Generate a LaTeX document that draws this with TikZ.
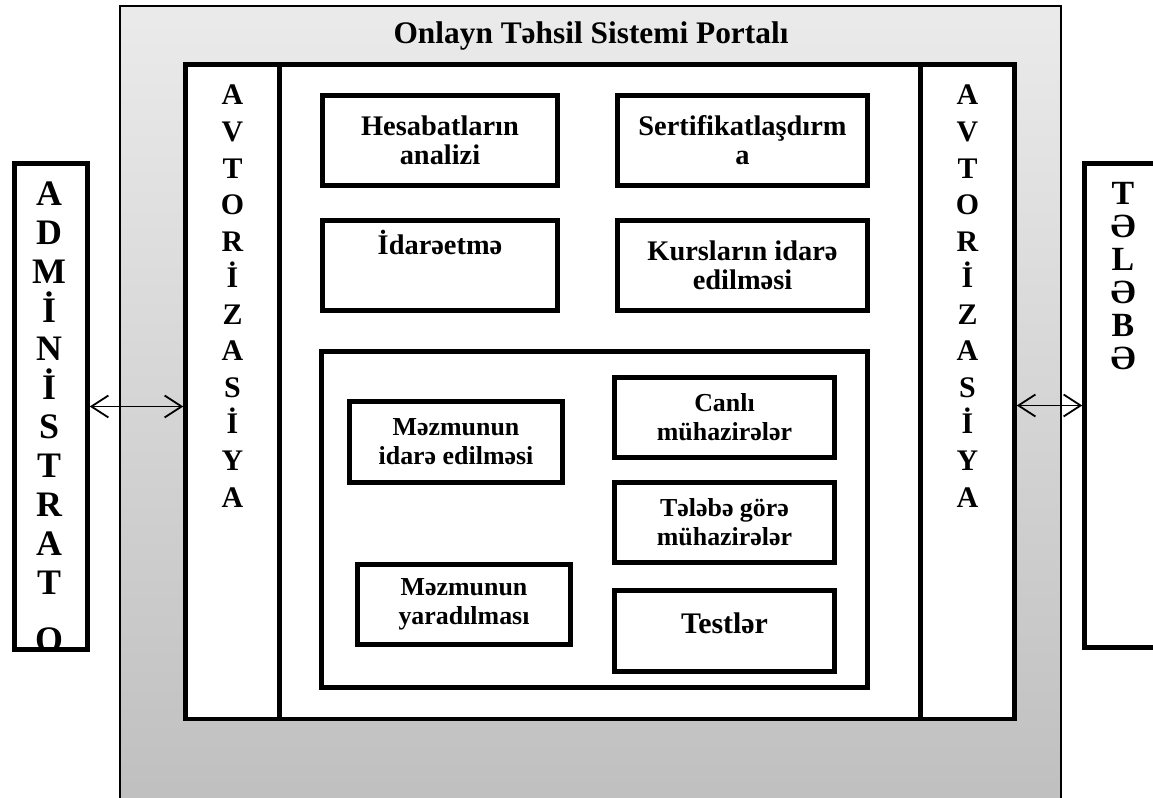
\documentclass[tikz,border=0pt]{standalone}
\usepackage{fontspec}
\setmainfont{Liberation Serif}
\usepackage{tikz}
\usetikzlibrary{positioning,arrows.meta}

\begin{document}
\begin{tikzpicture}[>={Straight Barb[length=17bp,width=22bp]},line join=miter,
  thickbox/.style={draw,line width=4.5bp,fill=white,inner sep=0pt,align=center},
  letters/.style={inner sep=0pt,anchor=north,align=center},
  topfont/.style={font=\fontsize{28.5}{29}\selectfont\bfseries},
  subfont/.style={font=\fontsize{26}{29}\selectfont\bfseries},]
\useasboundingbox (0bp,0bp) rectangle (1153bp,798bp);
\clip (0bp,0bp) rectangle (1153bp,798bp);
%%
\node (portal) at (590.5bp,392.5bp) [draw,line width=1.5bp,top color=black!8,bottom color=black!25,minimum width=941bp,minimum height=799bp] {};
\node (title) at (591bp,754.7bp) [anchor=base,font=\fontsize{31.5}{36}\selectfont\bfseries] {Onlayn Təhsil Sistemi Portalı};
%
\node (frame) at (600bp,406.25bp) [thickbox,minimum width=829bp,minimum height=654.5bp] {};
\node (authL) at (232.5bp,406.25bp) [thickbox,minimum width=94bp,minimum height=654.5bp] {};
\node (authR) at (967.5bp,406.25bp) [thickbox,minimum width=94bp,minimum height=654.5bp] {};
\node (authL_txt) at (232.5bp,713bp) [letters,font=\fontsize{30}{36.7}\selectfont\bfseries] {A\\V\\T\\O\\R\\İ\\Z\\A\\S\\İ\\Y\\A};
\node (authR_txt) at (967.5bp,713bp) [letters,font=\fontsize{30}{36.7}\selectfont\bfseries] {A\\V\\T\\O\\R\\İ\\Z\\A\\S\\İ\\Y\\A};
%
\node (hes) at (440bp,657.5bp) [thickbox,topfont,minimum width=235bp,minimum height=90bp] {Hesabatların\\analizi};
\node (sert) at (742.5bp,657.5bp) [thickbox,topfont,minimum width=250bp,minimum height=90bp] {Sertifikatlaşdırm\\a};
\node (idare) at (440bp,532.5bp) [thickbox,topfont,minimum width=235bp,minimum height=90bp,text height=24bp,text depth=45bp] {İdarəetmə};
\node (kurs) at (742.5bp,532.5bp) [thickbox,topfont,minimum width=250bp,minimum height=90bp] {Kursların idarə\\edilməsi};
%
\node (content) at (594.5bp,278.5bp) [thickbox,minimum width=546bp,minimum height=336bp] {};
\node (mez_idare) at (456bp,356bp) [thickbox,subfont,minimum width=213bp,minimum height=81bp] {Məzmunun\\idarə edilməsi};
\node (canli) at (724.5bp,380.5bp) [thickbox,subfont,minimum width=220bp,minimum height=80bp] {Canlı\\mühazirələr};
\node (teleb) at (724.5bp,275.5bp) [thickbox,subfont,minimum width=220bp,minimum height=80bp] {Tələbə görə\\mühazirələr};
\node (mez_yarad) at (464bp,193.5bp) [thickbox,subfont,minimum width=213bp,minimum height=80bp] {Məzmunun\\yaradılması};
\node (testler) at (724.5bp,167bp) [thickbox,font=\fontsize{30}{34}\selectfont\bfseries,minimum width=220bp,minimum height=81bp,text depth=16bp] {Testlər};
%
\node (admin) at (51bp,391.5bp) [thickbox,minimum width=73bp,minimum height=486bp] {};
\begin{scope}
  \clip (admin.north west) rectangle (admin.south east);
  \node (admin_txt) at (49bp,616.3bp) [letters,font=\fontsize{36}{39}\selectfont\bfseries] {A\\D\\M\\İ\\N\\İ\\S\\T\\R\\A\\T\\[19bp]O};
\end{scope}
\node (talaba) at (1123bp,392.5bp) [thickbox,minimum width=77bp,minimum height=484bp] {};
\node (talaba_txt) at (1123bp,616.3bp) [letters,font=\fontsize{34}{33.3}\selectfont\bfseries] {T\\Ə\\L\\Ə\\B\\Ə};
%
\draw [<->,line width=1.8bp] (admin.east) -- (admin.east -| authL.west);
\draw [<->,line width=1.8bp] (talaba.west -| authR.east) -- (talaba.west);
%
\end{tikzpicture}
\end{document}
